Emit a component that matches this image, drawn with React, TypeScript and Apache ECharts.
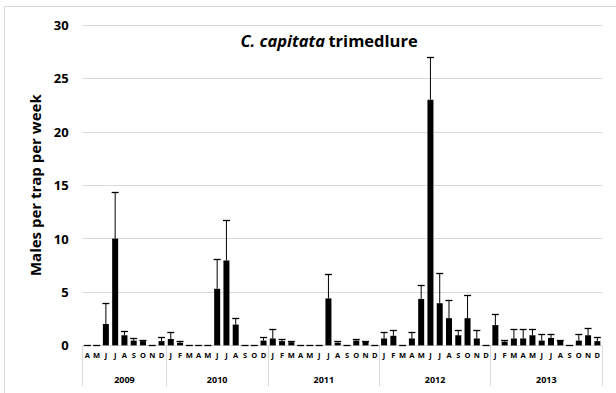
import React, { useEffect, useRef } from "react";
import * as echarts from "echarts";

const years = ["2009", "2010", "2011", "2012", "2013"];
const monthsByYear: string[][] = [
  ["A", "M", "J", "J", "A", "S", "O", "N", "D"],
  ["J", "F", "M", "A", "M", "J", "J", "A", "S", "O", "D"],
  ["J", "F", "M", "A", "M", "J", "J", "A", "S", "O", "N", "D"],
  ["J", "F", "M", "A", "M", "J", "J", "A", "S", "O", "N", "D"],
  ["J", "F", "M", "A", "M", "J", "J", "A", "S", "O", "N", "D"],
];
const means2009 = [0, 0, 2.0, 10.0, 0.95, 0.45, 0.4, 0, 0.4];
const means2010 = [0.6, 0.25, 0, 0, 0, 5.3, 7.95, 1.95, 0, 0, 0.45];
const means2011 = [0.65, 0.4, 0.3, 0, 0, 0, 4.4, 0.25, 0, 0.45, 0.35, 0];
const means2012 = [0.65, 0.9, 0, 0.65, 4.35, 23.0, 3.95, 2.55, 0.95, 2.55, 0.65, 0];
const means2013 = [1.9, 0.35, 0.65, 0.65, 0.95, 0.45, 0.7, 0.45, 0, 0.45, 0.95, 0.4];
const errors2009 = [0, 0, 1.95, 4.35, 0.4, 0.2, 0.15, 0, 0.4];
const errors2010 = [0.65, 0.2, 0, 0, 0, 2.8, 3.8, 0.6, 0, 0, 0.3];
const errors2011 = [0.85, 0.17, 0.15, 0, 0, 0, 2.3, 0.15, 0, 0.15, 0.1, 0];
const errors2012 = [0.6, 0.55, 0, 0.6, 1.35, 4.0, 2.8, 1.7, 0.45, 2.15, 0.8, 0];
const errors2013 = [1.0, 0.12, 0.85, 0.85, 0.55, 0.6, 0.4, 0.08, 0, 0.6, 0.7, 0.35];
const yTicks = [0, 5, 10, 15, 20, 25, 30];

const FONT = "'Open Sans', sans-serif";

export default function App() {
  const ref = useRef<HTMLDivElement>(null);
  useEffect(() => {
    document.body.style.margin = "0";
    if (!ref.current) return;
    const chart = echarts.init(ref.current, undefined, { renderer: "svg" });

    const monthLabels = monthsByYear.flat();
    const means = [...means2009, ...means2010, ...means2011, ...means2012, ...means2013];
    const errs = [...errors2009, ...errors2010, ...errors2011, ...errors2012, ...errors2013];
    const n = monthLabels.length;
    const boundaries: number[] = [0];
    monthsByYear.forEach((m) => boundaries.push(boundaries[boundaries.length - 1] + m.length));
    const centers = years.map((_, i) => (boundaries[i] + boundaries[i + 1]) / 2);

    chart.setOption({
      animation: false,
      textStyle: { fontFamily: FONT },
      grid: { left: 82.7, right: 14, top: 25, bottom: 47.6, containLabel: false },
      graphic: [
        {
          type: "rect",
          shape: { x: 4.5, y: 6.5, width: 700, height: 500 },
          style: { fill: "none", stroke: "#d9d9d9", lineWidth: 1 },
          silent: true,
          z: -10,
        },
        {
          type: "text",
          x: 329,
          y: 40,
          style: {
            text: "{i|C. capitata} {b|trimedlure}",
            align: "center",
            verticalAlign: "middle",
            rich: {
              i: { fontFamily: FONT, fontSize: 16.5, fontWeight: "bold", fontStyle: "italic", fill: "#000" },
              b: { fontFamily: FONT, fontSize: 16.5, fontWeight: "bold", fill: "#000" },
            },
          },
        },
      ],
      xAxis: [
        {
          type: "category",
          data: monthLabels,
          axisLine: { show: false },
          axisTick: { show: false },
          axisLabel: {
            interval: 0,
            fontSize: 7.5,
            fontWeight: "bold",
            color: "#000",
            margin: 6,
            fontFamily: FONT,
          },
        },
        {
          type: "value",
          position: "bottom",
          min: 0,
          max: n,
          axisLine: { show: false },
          splitLine: { show: false },
          axisTick: {
            show: true,
            customValues: boundaries,
            length: 41,
            lineStyle: { color: "#d9d9d9", width: 1 },
          },
          axisLabel: {
            customValues: centers,
            margin: 30,
            fontSize: 9,
            fontWeight: "bold",
            color: "#000",
            fontFamily: FONT,
            formatter: (v: number) => {
              const i = centers.findIndex((c) => Math.abs(c - v) < 1e-6);
              return i >= 0 ? years[i] : "";
            },
          },
        },
      ],
      yAxis: {
        type: "value",
        min: yTicks[0],
        max: yTicks[yTicks.length - 1],
        interval: 5,
        name: "Males per trap per week",
        nameLocation: "middle",
        nameGap: 39,
        nameTextStyle: { fontSize: 15, fontWeight: "bold", color: "#000", fontFamily: FONT },
        axisLine: { show: false },
        axisTick: { show: false },
        splitLine: { lineStyle: { color: "#d9d9d9", width: 1 } },
        axisLabel: { fontSize: 13, fontWeight: "bold", color: "#000", margin: 14, fontFamily: FONT },
      },
      series: [
        {
          type: "bar",
          data: means,
          barWidth: 6,
          itemStyle: { color: "#000" },
          xAxisIndex: 0,
        },
        {
          type: "custom",
          xAxisIndex: 0,
          data: means.map((m, i) => [i, m, errs[i]]),
          renderItem: (params: any, api: any) => {
            const x = api.value(0);
            const y = api.value(1);
            const e = api.value(2);
            const base = api.coord([x, y]);
            const top = api.coord([x, y + e]);
            const ty = Math.round(top[1]) + 0.5;
            const hw = 3.5;
            return {
              type: "group",
              children: [
                {
                  type: "line",
                  shape: { x1: top[0], y1: base[1], x2: top[0], y2: ty },
                  style: { stroke: "#000", lineWidth: 1 },
                },
                {
                  type: "line",
                  shape: { x1: top[0] - hw, y1: ty, x2: top[0] + hw, y2: ty },
                  style: { stroke: "#000", lineWidth: 1.3 },
                },
              ],
            };
          },
          z: 3,
        },
      ],
    });
    return () => chart.dispose();
  }, []);
  return <div ref={ref} style={{ width: 616, height: 393 }} />;
}
